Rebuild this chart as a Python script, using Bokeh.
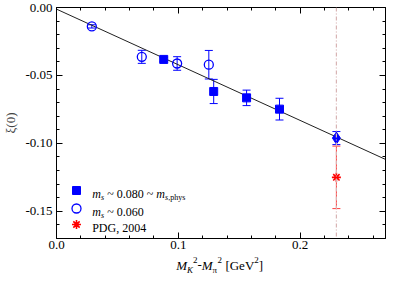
from bokeh.plotting import figure
from bokeh.models import (Range1d, LinearAxis, FixedTicker, Whisker, TeeHead,
                          ColumnDataSource, Span)
from bokeh.layouts import column
from bokeh.core.properties import value
from bokeh.embed import file_html
from bokeh.resources import INLINE

# ---------------- data ----------------
sq_x = [0.088, 0.129, 0.156, 0.183]
sq_y = [-0.0382, -0.0618, -0.0665, -0.0748]
sq_err = [0.0015, 0.0089, 0.0057, 0.0080]

circ_x = [0.029, 0.070, 0.099, 0.125]
circ_y = [-0.0139, -0.0363, -0.0412, -0.0421]
circ_err = [0.0012, 0.0048, 0.0050, 0.0105]

phys_x = [0.2297]
phys_y = [-0.0961]
phys_err = [0.0048]

pdg_x = [0.2297]
pdg_y = [-0.125]
pdg_err = [0.023]

fit_x = [0.0, 0.27]
fit_y = [-0.0012, -0.1118]

x_lim = [0.0, 0.27]
y_lim = [-0.17, 0.0]
x_ticks = [0.0, 0.1, 0.2]
x_tick_labels = ["0.0", "0.1", "0.2"]
x_minor = [0.02, 0.04, 0.06, 0.08, 0.12, 0.14, 0.16, 0.18, 0.22, 0.24, 0.26]
y_ticks = [0.0, -0.05, -0.10, -0.15]
y_tick_labels = ["0.00", "-0.05", "-0.10", "-0.15"]
y_minor = [-0.01, -0.02, -0.03, -0.04, -0.06, -0.07, -0.08, -0.09,
           -0.11, -0.12, -0.13, -0.14, -0.16]

legend_labels = ["~ 0.080 ~", "~ 0.060", "PDG, 2004"]

# ---------------- layout ----------------
FW, FH = 329, 231      # plot frame
L, RB = 50, 4          # left / right borders
QH = 24                # strip below holding the x title
FONT = "Liberation Serif"
BLUE = "#0000ff"
RED = "#ff0000"

p = figure(frame_width=FW, frame_height=FH,
           x_range=Range1d(*x_lim), y_range=Range1d(*y_lim),
           output_backend="svg", toolbar_location=None,
           min_border_left=L, min_border_right=RB,
           min_border_top=7, min_border_bottom=0)
p.extra_x_ranges = {"px": Range1d(0, FW)}
p.extra_y_ranges = {"px": Range1d(0, FH)}
p.grid.visible = False
p.outline_line_color = "black"
p.outline_line_width = 1


def style(ax):
    ax.axis_line_color = "black"
    ax.major_tick_line_color = "black"
    ax.minor_tick_line_color = "black"
    ax.major_tick_in = 6
    ax.major_tick_out = 0
    ax.minor_tick_in = 3
    ax.minor_tick_out = 0
    ax.major_label_text_font = FONT
    ax.major_label_text_font_size = "13px"
    ax.major_label_text_color = "black"
    ax.major_label_standoff = 4


xa = p.xaxis[0]
xa.ticker = FixedTicker(ticks=x_ticks, minor_ticks=x_minor)
xa.major_label_overrides = dict(zip(x_ticks, x_tick_labels))
style(xa)
xa.major_label_standoff = 2

ya = p.yaxis[0]
ya.ticker = FixedTicker(ticks=y_ticks, minor_ticks=y_minor)
ya.major_label_overrides = dict(zip(y_ticks, y_tick_labels))
style(ya)
ya.axis_label = "ξ(0)"
ya.axis_label_text_font = FONT
ya.axis_label_text_font_size = "13px"
ya.axis_label_text_font_style = "normal"
ya.axis_label_standoff = 4

top = LinearAxis(ticker=FixedTicker(ticks=x_ticks, minor_ticks=x_minor),
                 major_label_overrides={t: "" for t in x_ticks})
style(top)
top.major_label_standoff = 0
p.add_layout(top, "above")
right = LinearAxis(ticker=FixedTicker(ticks=y_ticks, minor_ticks=y_minor),
                   major_label_overrides={t: "" for t in y_ticks})
style(right)
right.major_label_standoff = 0
p.add_layout(right, "right")

# vertical reference line at physical point
p.add_layout(Span(location=pdg_x[0], dimension="height", line_color="#d8b4b4",
                  line_width=1.2, line_dash="4 2 1 2"))

# fit line
p.line(fit_x, fit_y, line_color="#202020", line_width=1)


def errbars(xs, ys, es, color, alpha=1.0):
    src = ColumnDataSource(dict(x=xs, lo=[y - e for y, e in zip(ys, es)],
                                hi=[y + e for y, e in zip(ys, es)]))
    w = Whisker(base="x", lower="lo", upper="hi", source=src,
                line_color=color, line_width=1, line_alpha=alpha,
                upper_head=TeeHead(size=8, line_color=color, line_width=1, line_alpha=alpha),
                lower_head=TeeHead(size=8, line_color=color, line_width=1, line_alpha=alpha))
    p.add_layout(w)


errbars(sq_x, sq_y, sq_err, BLUE)
errbars(circ_x, circ_y, circ_err, BLUE)
errbars(phys_x, phys_y, phys_err, BLUE)
errbars(pdg_x, pdg_y, pdg_err, RED, 0.75)

p.scatter(sq_x, sq_y, marker="square", size=8, fill_color=BLUE, line_color=BLUE)
p.scatter(circ_x, circ_y, marker="circle", size=9, fill_color=None,
          line_color=BLUE, line_width=1.3)
p.scatter(phys_x, phys_y, marker="diamond", size=12, fill_color=BLUE, line_color=BLUE)
p.scatter(pdg_x, pdg_y, marker="asterisk", size=9, line_color=RED, line_width=1.6)


def txt(fig, x, y, text, size, style="normal", dx=0, align="left", baseline="alphabetic",
        xr="default", yr="default"):
    fig.text(x=[x], y=[y], text=[text], x_offset=dx,
             text_font=value(FONT), text_font_size=f"{size}px",
             text_font_style=style, text_color="black",
             text_align=align, text_baseline=baseline,
             x_range_name=xr, y_range_name=yr)


# ---------------- legend (manual, in frame pixel coordinates) ----------------
LX = 20              # swatch x offset from frame left
ROWS = [48, 30, 14]  # row centres above frame bottom
TX = 35.7            # text start
LFS = 12
SFS = 8
p.scatter([LX], [ROWS[0]], marker="square", size=8, fill_color=BLUE, line_color=BLUE,
          x_range_name="px", y_range_name="px")
p.scatter([LX], [ROWS[1]], marker="circle", size=9, fill_color=None, line_color=BLUE,
          line_width=1.3, x_range_name="px", y_range_name="px")
p.scatter([LX], [ROWS[2]], marker="asterisk", size=9, line_color=RED, line_width=1.6,
          x_range_name="px", y_range_name="px")

for i, r in enumerate(ROWS):
    base = r - 3.5
    if i < 2:
        txt(p, TX, base, "m", LFS, "italic", xr="px", yr="px")
        txt(p, TX + 8.8, base - 3, "s", SFS, "italic", xr="px", yr="px")
        txt(p, TX + 15, base, legend_labels[i], LFS, xr="px", yr="px")
        if i == 0:
            mx = TX + 15 + 49
            txt(p, mx, base, "m", LFS, "italic", xr="px", yr="px")
            txt(p, mx + 8.8, base - 3, "s", SFS, "italic", xr="px", yr="px")
            txt(p, mx + 12, base - 3, ",phys", SFS, xr="px", yr="px")
    else:
        txt(p, TX, base, legend_labels[i], LFS, xr="px", yr="px")

# ---------------- strip below: x title ----------------
q = figure(frame_width=FW, frame_height=QH,
           x_range=p.x_range, y_range=Range1d(0, QH),
           x_axis_location=None, y_axis_location=None,
           min_border_left=L, min_border_right=RB, min_border_top=0, min_border_bottom=0,
           output_backend="svg", toolbar_location=None)
q.grid.visible = False
q.outline_line_color = None

xc = (x_lim[0] + x_lim[1]) / 2
s0 = -44.8
bl = 10.5
sub = bl - 5
sup = bl + 5.5
txt(q, xc, bl, "M", 13, "italic", dx=s0)
txt(q, xc, sub, "K", 9, "italic", dx=s0 + 10.8)
txt(q, xc, sup, "2", 9, dx=s0 + 16.8)
txt(q, xc, bl, "-", 13, dx=s0 + 21.3)
txt(q, xc, bl, "M", 13, "italic", dx=s0 + 25.6)
txt(q, xc, sub, "π", 9, dx=s0 + 36.4)
txt(q, xc, sup, "2", 9, dx=s0 + 41.4)
txt(q, xc, bl, "[GeV", 13, dx=s0 + 49.2)
txt(q, xc, sup, "2", 9, dx=s0 + 78.1)
txt(q, xc, bl, "]", 13, dx=s0 + 82.6)

layout = column(p, q, spacing=0)
open("out.html", "w").write(file_html(layout, INLINE))
